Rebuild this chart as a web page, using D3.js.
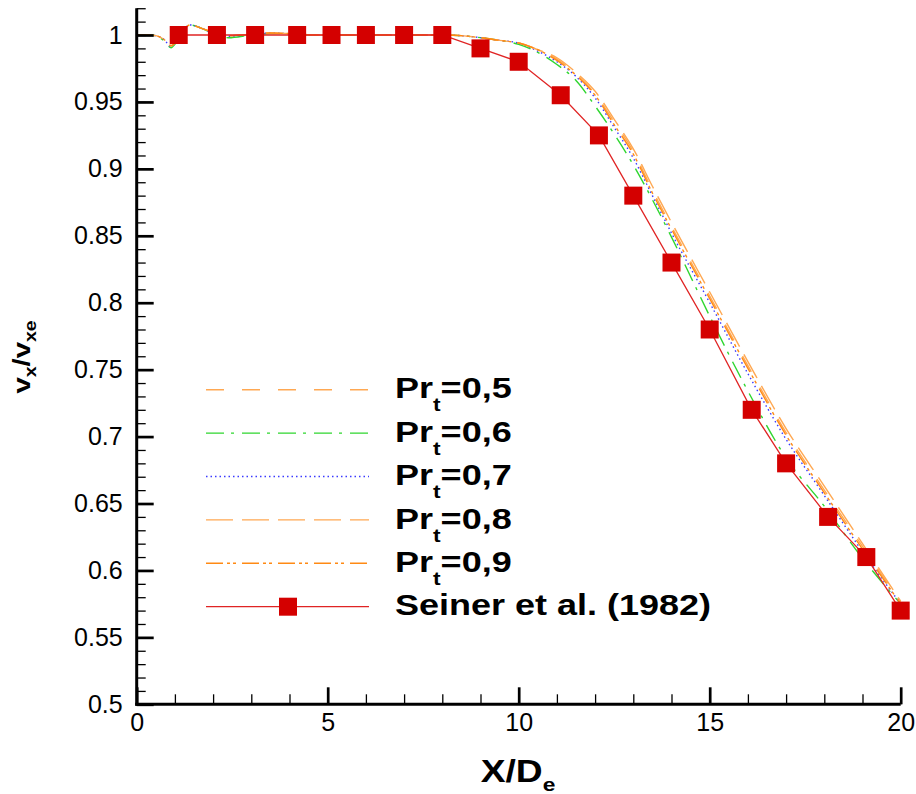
<!DOCTYPE html>
<html><head><meta charset="utf-8">
<script src="https://cdn.jsdelivr.net/npm/d3@7"></script>
<style>body{margin:0;background:#fff}svg{display:block}</style>
</head><body>
<svg id="chart" width="916" height="794"></svg>
<script>
// ---------- data ----------
const xGrid = [0, 0.3, 0.5, 0.7, 0.9, 1.0, 1.2, 1.4, 1.7, 2.0, 2.4, 3.0, 3.5, 4.0, 4.6, 5.5, 6.5, 7.5, 8.0, 8.5, 9.0, 9.5, 10.0, 10.5, 11.0, 11.5, 12.0, 12.5, 13.0, 13.5, 14.0, 15.0, 16.0, 17.0, 18.0, 19.0, 20.0];
const pr05 = [1.000, 1.000, 0.9995, 0.997, 0.992, 0.994, 1.003, 1.0075, 1.005, 1.002, 0.9995, 1.0005, 1.0015, 1.001, 1.000, 1.000, 1.000, 1.000, 1.000, 0.9995, 0.998, 0.996, 0.994, 0.989, 0.982, 0.971, 0.956, 0.935, 0.913, 0.884, 0.857, 0.805, 0.753, 0.703, 0.660, 0.618, 0.576];
const pr06 = [1.000, 1.000, 0.9995, 0.996, 0.9905, 0.993, 1.003, 1.0075, 1.005, 1.001, 0.998, 1.000, 1.001, 1.001, 1.000, 1.000, 1.000, 1.000, 1.000, 0.9995, 0.998, 0.996, 0.993, 0.987, 0.978, 0.966, 0.947, 0.926, 0.903, 0.877, 0.849, 0.790, 0.734, 0.684, 0.648, 0.609, 0.575];
const pr07 = [1.000, 1.000, 0.9995, 0.997, 0.9915, 0.994, 1.003, 1.0075, 1.005, 1.0015, 0.999, 1.0005, 1.0015, 1.001, 1.000, 1.000, 1.000, 1.000, 1.000, 0.9995, 0.998, 0.996, 0.994, 0.988, 0.980, 0.969, 0.953, 0.931, 0.908, 0.880, 0.852, 0.800, 0.747, 0.698, 0.656, 0.614, 0.575];
const pr08 = [1.000, 1.000, 0.9995, 0.997, 0.992, 0.994, 1.003, 1.0075, 1.005, 1.002, 0.9995, 1.0005, 1.0015, 1.001, 1.000, 1.000, 1.000, 1.000, 1.000, 0.9995, 0.998, 0.996, 0.994, 0.989, 0.983, 0.972, 0.958, 0.937, 0.915, 0.887, 0.860, 0.808, 0.756, 0.706, 0.663, 0.620, 0.577];
const pr09 = [1.000, 1.000, 0.9995, 0.997, 0.992, 0.994, 1.003, 1.0075, 1.005, 1.002, 0.9995, 1.0005, 1.0015, 1.001, 1.000, 1.000, 1.000, 1.000, 1.000, 0.9995, 0.998, 0.996, 0.994, 0.989, 0.981, 0.970, 0.955, 0.933, 0.911, 0.882, 0.855, 0.803, 0.751, 0.701, 0.658, 0.616, 0.575];
const seinerX = [1.1, 2.1, 3.1, 4.2, 5.1, 6.0, 7.0, 8.0, 9.0, 10.0, 11.1, 12.1, 13.0, 14.0, 15.0, 16.1, 17.0, 18.1, 19.1, 20.0];
const seinerY = [1.0, 1.0, 1.0, 1.0, 1.0, 1.0, 1.0, 1.0, 0.99, 0.98, 0.955, 0.925, 0.88, 0.83, 0.78, 0.72, 0.68, 0.64, 0.61, 0.57];
const seriesNames = ["0,5", "0,6", "0,7", "0,8", "0,9"];
const expName = "Seiner et al. (1982)";
const xMajorTicks = [0, 5, 10, 15, 20];
const xMinorTicks = d3.range(0, 21, 1);
const yMajorTicks = [0.5, 0.55, 0.6, 0.65, 0.7, 0.75, 0.8, 0.85, 0.9, 0.95, 1];
const yMinorTicks = d3.range(50, 103, 1).map(v => v / 100);

// ---------- styles ----------
const styles = [
  {color: "#ffa852", dash: "18,18"},
  {color: "#2fd62f", dash: "18,7,3,8"},
  {color: "#3b3bff", dash: "1.5,3"},
  {color: "#ffa852", dash: "27,9"},
  {color: "#ff8a14", dash: "17,4,3,3,3,6"}
];
const seriesData = [pr05, pr06, pr07, pr08, pr09];

const svg = d3.select("#chart");
const x = d3.scaleLinear().domain([0, 20]).range([136.7, 900.7]);
const y = d3.scaleLinear().domain([0.5, 1]).range([704.3, 35]);

// curves
const line = d3.line().x(d => x(d[0])).y(d => y(d[1])).curve(d3.curveMonotoneX);
seriesData.forEach((s, i) => {
  svg.append("path")
    .attr("d", line(xGrid.map((xv, j) => [xv, s[j]])))
    .attr("fill", "none")
    .attr("stroke", styles[i].color)
    .attr("stroke-width", 1.4)
    .attr("stroke-dasharray", styles[i].dash);
});

// experiment
const expPts = seinerX.map((xv, j) => [xv, seinerY[j]]);
svg.append("path")
  .attr("d", d3.line().x(d => x(d[0])).y(d => y(d[1]))(expPts))
  .attr("fill", "none").attr("stroke", "#e02424").attr("stroke-width", 1.3);
svg.selectAll("rect.mk").data(expPts).enter().append("rect")
  .attr("class", "mk")
  .attr("x", d => x(d[0]) - 9).attr("y", d => y(d[1]) - 9)
  .attr("width", 18).attr("height", 18).attr("fill", "#d40000");

// axes
const font = "'Liberation Sans', Arial, Helvetica, sans-serif";
const gx = svg.append("g").attr("transform", "translate(0,704.3)");
gx.call(d3.axisBottom(x).tickValues(xMinorTicks).tickSize(-10).tickSizeOuter(0).tickFormat(""));
gx.selectAll(".tick line").attr("stroke-width", 1.3);
gx.select(".domain").remove();
const gx2 = svg.append("g").attr("transform", "translate(0,704.3)");
gx2.call(d3.axisBottom(x).tickValues(xMajorTicks).tickSize(-17).tickSizeOuter(0).tickPadding(9).tickFormat(d3.format("d")));
gx2.selectAll(".tick line").attr("stroke-width", 2.7);
gx2.select(".domain").attr("stroke-width", 3).attr("d", `M${x(0)-1.5},0H${x(20)}`);
gx2.selectAll("text").attr("font-family", font).attr("font-size", 25).attr("fill", "#000");

const y0 = y(1.02);
const gy = svg.append("g").attr("transform", "translate(136.7,0)");
gy.call(d3.axisLeft(y).tickValues(yMinorTicks).tickSize(-9).tickSizeOuter(0).tickFormat(""));
gy.selectAll(".tick line").attr("stroke-width", 1.3);
gy.select(".domain").remove();
const gy2 = svg.append("g").attr("transform", "translate(136.7,0)");
gy2.call(d3.axisLeft(y).tickValues(yMajorTicks).tickSize(-17).tickSizeOuter(0).tickPadding(14).tickFormat(d => d3.format("")(d)));
gy2.selectAll(".tick line").attr("stroke-width", 2.7);
gy2.select(".domain").attr("stroke-width", 3).attr("d", `M0,${y0}V${y(0.5)+1.5}`);
gy2.selectAll("text").attr("font-family", font).attr("font-size", 25).attr("fill", "#000");

// axis titles
const xt = svg.append("g").attr("transform", "translate(518,782) scale(1.2,1)")
  .append("text").attr("text-anchor", "middle").attr("font-family", font)
  .attr("font-weight", "bold").attr("font-size", 31);
xt.append("tspan").text("X/D");
xt.append("tspan").attr("font-size", 19).attr("dy", 9).text("e");

const yt = svg.append("g").attr("transform", "translate(30,357) rotate(-90) scale(1.22,1)")
  .append("text").attr("text-anchor", "middle").attr("font-family", font)
  .attr("font-weight", "bold").attr("font-size", 24);
yt.append("tspan").text("v");
yt.append("tspan").attr("font-size", 16).attr("dy", 6).text("x");
yt.append("tspan").attr("dy", -6).text("/v");
yt.append("tspan").attr("font-size", 16).attr("dy", 6).text("xe");

// legend
const legY0 = 389.7, legDy = 43.4;
seriesNames.forEach((n, i) => {
  const ly = legY0 + i * legDy;
  svg.append("line").attr("x1", 206).attr("x2", 369).attr("y1", ly).attr("y2", ly)
    .attr("stroke", styles[i].color).attr("stroke-width", 1.4).attr("stroke-dasharray", styles[i].dash);
  const t = svg.append("g").attr("transform", `translate(395,${ly + 8.6}) scale(1.2,1)`)
    .append("text").attr("font-family", font).attr("font-weight", "bold").attr("font-size", 30);
  t.append("tspan").text("Pr");
  t.append("tspan").attr("font-size", 19).attr("dy", 13).text("t");
  t.append("tspan").attr("dy", -13).text("=" + n);
});
{
  const ly = legY0 + 5 * legDy;
  svg.append("line").attr("x1", 206).attr("x2", 369).attr("y1", ly).attr("y2", ly)
    .attr("stroke", "#e02424").attr("stroke-width", 1.3);
  svg.append("rect").attr("x", 288 - 9).attr("y", ly - 9).attr("width", 18).attr("height", 18).attr("fill", "#d40000");
  svg.append("g").attr("transform", `translate(395,${ly + 8.6}) scale(1.2,1)`)
    .append("text").attr("font-family", font).attr("font-weight", "bold").attr("font-size", 30).text(expName);
}
</script>
</body></html>
